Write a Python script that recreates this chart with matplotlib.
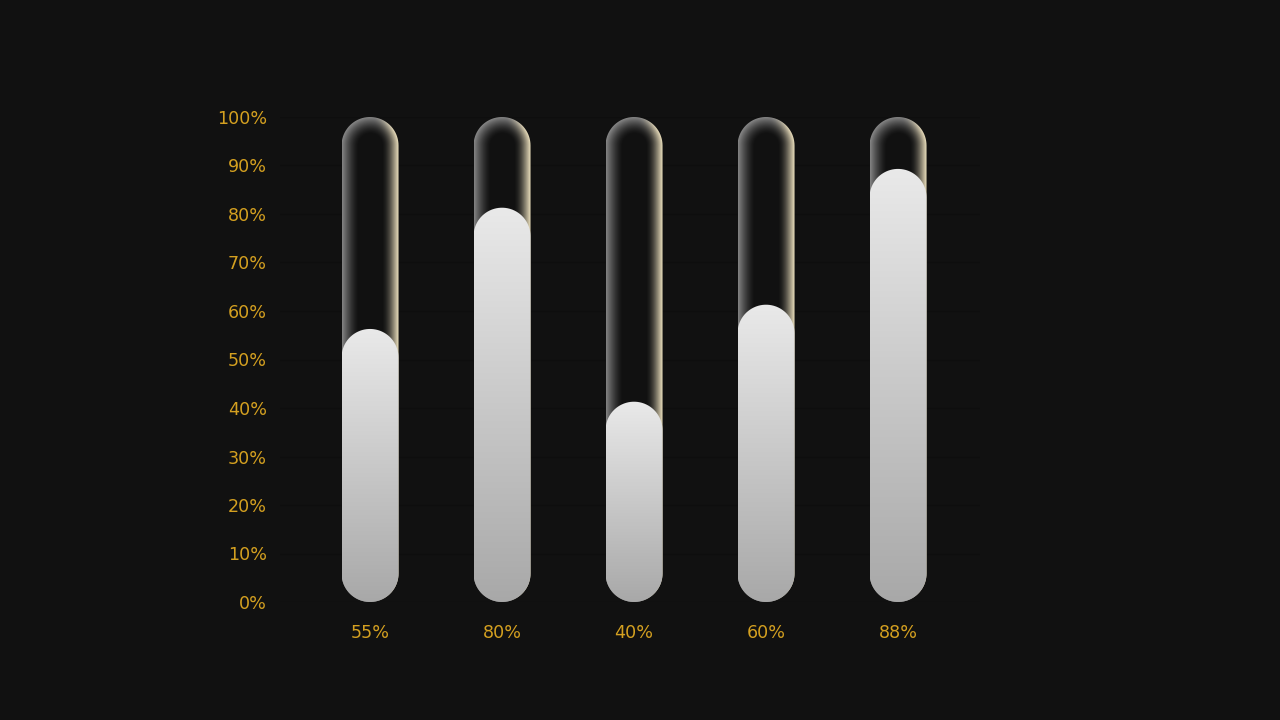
import numpy as np
import matplotlib
matplotlib.use("Agg")
import matplotlib.pyplot as plt
from matplotlib.path import Path
from matplotlib.patches import PathPatch

# data
categories = ["55%", "80%", "40%", "60%", "88%"]
values = [55, 80, 40, 60, 88]
y_ticks = [0, 10, 20, 30, 40, 50, 60, 70, 80, 90, 100]
y_tick_labels = [f"{t}%" for t in y_ticks]

BG = "#111111"
GOLD = "#d4a020"

fig = plt.figure(figsize=(12.8, 7.2), dpi=100, facecolor=BG)
# axes in pixels: x 280..980, y 117..602 (top-down)
ax = fig.add_axes([280 / 1280, (720 - 602) / 720, 700 / 1280, 485 / 720])
ax.set_facecolor(BG)
ax.set_xlim(-0.682, 4.621)
ax.set_ylim(0, 100)
ax.set_autoscale_on(False)

px_per_x = 700 / (4.621 + 0.682)
px_per_y = 485 / 100
bar_w_px = 57
rad_px = bar_w_px / 2
rx = rad_px / px_per_x
ry = rad_px / px_per_y
cap_pad = 1.3  # fill cap sits a bit above its value


def capsule(xc, y0, y1):
    th_top = np.linspace(0, np.pi, 40)
    th_bot = np.linspace(np.pi, 2 * np.pi, 40)
    top = np.column_stack([xc + rx * np.cos(th_top), y1 - ry + ry * np.sin(th_top)])
    bot = np.column_stack([xc + rx * np.cos(th_bot), y0 + ry + ry * np.sin(th_bot)])
    verts = np.vstack([top, bot, top[:1]])
    codes = [Path.MOVETO] + [Path.LINETO] * (len(verts) - 2) + [Path.CLOSEPOLY]
    return Path(verts, codes)


def glow_image(h_px):
    # inner glow: grey on the left, cream on the right
    W = bar_w_px
    H = int(round(h_px))
    u = np.arange(W * 2) / 2 + 0.25
    v = np.arange(H * 2)[::-1] / 2 + 0.25
    U, V = np.meshgrid(u, v)
    r = rad_px
    vc = np.clip(V, r, H - r)
    dist = np.sqrt((U - r) ** 2 + (V - vc) ** 2)
    d = r - dist
    t = U / W
    gray = np.array([0.64, 0.64, 0.64])
    cream = np.array([0.96, 0.91, 0.77])
    s = np.clip((t - 0.55) / 0.4, 0, 1)
    s = s * s * (3 - 2 * s)
    col = gray[None, None, :] * (1 - s[..., None]) + cream[None, None, :] * s[..., None]
    a = np.clip(1 - d / 17, 0, 1) ** 1.5
    a = a * (0.8 + 0.2 * s)
    return np.dstack([col, a])


# grid
for t in y_ticks:
    ax.axhline(t, color="#0e0e0e", lw=1, zorder=0)

for i, val in enumerate(values):
    bg_path = capsule(i, 0, 100)
    patch = PathPatch(bg_path, facecolor=BG, edgecolor="none", zorder=1)
    ax.add_patch(patch)
    im = ax.imshow(glow_image(100 * px_per_y), extent=[i - rx, i + rx, 0, 100],
                   aspect="auto", zorder=2, interpolation="bilinear")
    im.set_clip_path(patch)

    fill_top = val + cap_pad
    fpatch = PathPatch(capsule(i, 0, fill_top), facecolor="none", edgecolor="none", zorder=3)
    ax.add_patch(fpatch)
    g = np.linspace(0.915, 0.66, 200)[:, None] * np.ones((1, 4))
    fim = ax.imshow(np.dstack([g, g, g]), extent=[i - rx, i + rx, 0, fill_top],
                    aspect="auto", zorder=3, interpolation="bilinear")
    fim.set_clip_path(fpatch)

ax.set_xticks(range(len(categories)))
ax.set_xticklabels(categories)
ax.set_yticks(y_ticks)
ax.set_yticklabels(y_tick_labels)
ax.tick_params(axis="both", length=0, colors=GOLD, labelsize=12.6)
ax.tick_params(axis="x", pad=16)
ax.tick_params(axis="y", pad=9.5)
for sp in ax.spines.values():
    sp.set_visible(False)

fig.savefig("out.png", dpi=100, facecolor=BG)
